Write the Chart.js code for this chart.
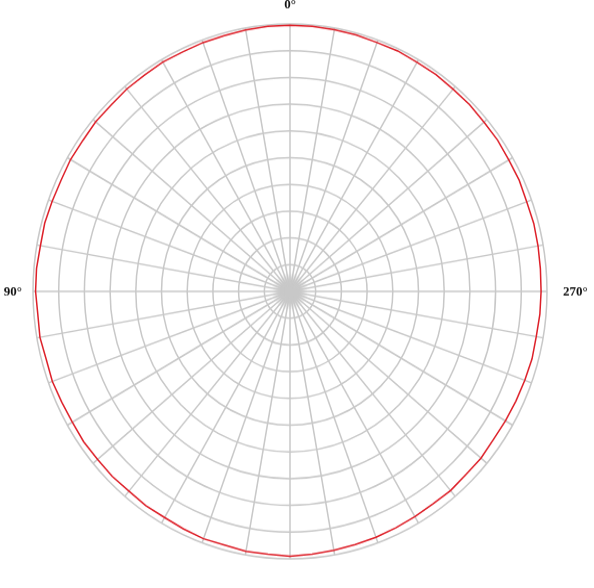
<!DOCTYPE html>
<html>
<head>
<meta charset="utf-8">
<script src="https://cdn.jsdelivr.net/npm/chart.js@4.4.0/dist/chart.umd.min.js"></script>
<style>
  html, body { margin: 0; padding: 0; background: #fff; overflow: hidden; }
  /* the source picture is a little taller than wide, so stretch the round plot */
  #wrap { width: 594px; height: 565px; transform: scaleY(1.0407); transform-origin: 0 0; }
</style>
</head>
<body>
<div id="wrap"><canvas id="polar"></canvas></div>
<script>
// angles in degrees, counter-clockwise from the top (0 top, 90 left, 180 bottom, 270 right)
const angles = [
  0, 5, 10, 15, 20, 25, 30, 35, 40, 45, 50, 55,
  60, 65, 70, 75, 80, 85, 90, 95, 100, 105, 110, 115,
  120, 125, 130, 135, 140, 145, 150, 155, 160, 165, 170, 175,
  180, 185, 190, 195, 200, 205, 210, 215, 220, 225, 230, 235,
  240, 245, 250, 255, 260, 265, 270, 275, 280, 285, 290, 295,
  300, 305, 310, 315, 320, 325, 330, 335, 340, 345, 350, 355
];

// normalised pattern (1 = outer ring)
const gain = [
  0.995, 0.995, 0.993, 0.990, 0.990, 0.988, 0.990, 0.987, 0.988, 0.985, 0.987, 0.984,
  0.986, 0.983, 0.985, 0.988, 0.986, 0.990, 0.990, 0.985, 0.988, 0.982, 0.984, 0.980,
  0.978, 0.980, 0.977, 0.978, 0.975, 0.978, 0.976, 0.980, 0.984, 0.982, 0.987, 0.986,
  0.990, 0.986, 0.983, 0.980, 0.978, 0.975, 0.972, 0.970, 0.972, 0.968, 0.970, 0.966,
  0.968, 0.970, 0.972, 0.975, 0.973, 0.976, 0.977, 0.978, 0.980, 0.982, 0.980, 0.984,
  0.983, 0.986, 0.985, 0.988, 0.987, 0.990, 0.989, 0.992, 0.990, 0.993, 0.994, 0.995
];

const axisLabels = [0, 90, 180, 270];

const gridColor = '#c8c8c8';

// the radar scale runs clockwise, so walk the angles backwards
const n = angles.length;
const radarLabels = angles.map((a, i) => angles[(n - i) % n]);
const radarData = angles.map((a, i) => gain[(n - i) % n]);

// where all the spokes meet the original shows a grey blot
const hubPlugin = {
  id: 'hub',
  beforeDatasetsDraw(chart) {
    const s = chart.scales.r;
    const ctx = chart.ctx;
    const g = ctx.createRadialGradient(s.xCenter, s.yCenter, 0, s.xCenter, s.yCenter, 18);
    g.addColorStop(0, 'rgba(200,200,200,1)');
    g.addColorStop(0.55, 'rgba(200,200,200,0.95)');
    g.addColorStop(1, 'rgba(200,200,200,0)');
    ctx.save();
    ctx.fillStyle = g;
    ctx.beginPath();
    ctx.arc(s.xCenter, s.yCenter, 18, 0, Math.PI * 2);
    ctx.fill();
    ctx.restore();
  }
};

const angleLabelPlugin = {
  id: 'angleLabels',
  afterDraw(chart) {
    const s = chart.scales.r;
    const ctx = chart.ctx;
    const R = s.drawingArea;
    ctx.save();
    ctx.fillStyle = '#111';
    ctx.font = 'bold 13px "Liberation Serif", "DejaVu Serif", serif';
    ctx.textBaseline = 'middle';
    axisLabels.forEach(a => {
      const txt = a + '°';
      if (a === 0) {
        ctx.textAlign = 'center';
        ctx.fillText(txt, s.xCenter, s.yCenter - R - 18);
      } else if (a === 90) {
        ctx.textAlign = 'right';
        ctx.fillText(txt, s.xCenter - R - 11, s.yCenter + 1);
      } else if (a === 180) {
        ctx.textAlign = 'center';
        ctx.fillText(txt, s.xCenter + 1, s.yCenter + R + 20);
      } else {
        ctx.textAlign = 'left';
        ctx.fillText(txt, s.xCenter + R + 16, s.yCenter + 1);
      }
    });
    ctx.restore();
  }
};

new Chart(document.getElementById('polar'), {
  type: 'radar',
  data: {
    labels: radarLabels,
    datasets: [{
      data: radarData,
      borderColor: '#dd1f28',
      borderWidth: 1.5,
      fill: false,
      pointRadius: 0,
      tension: 0
    }]
  },
  options: {
    responsive: true,
    maintainAspectRatio: false,
    animation: false,
    layout: { padding: { left: 33, right: 46, top: 23, bottom: 27 } },
    plugins: { legend: { display: false }, tooltip: { enabled: false } },
    scales: {
      r: {
        min: 0,
        max: 1,
        startAngle: 0,
        ticks: { display: false, stepSize: 0.1 },
        grid: { circular: true, color: gridColor, lineWidth: 1.5 },
        angleLines: {
          color: gridColor,
          lineWidth: ctx => (ctx.index % 2 === 0 ? 1.5 : 0)
        },
        pointLabels: { display: false }
      }
    }
  },
  plugins: [hubPlugin, angleLabelPlugin]
});
</script>
</body>
</html>
